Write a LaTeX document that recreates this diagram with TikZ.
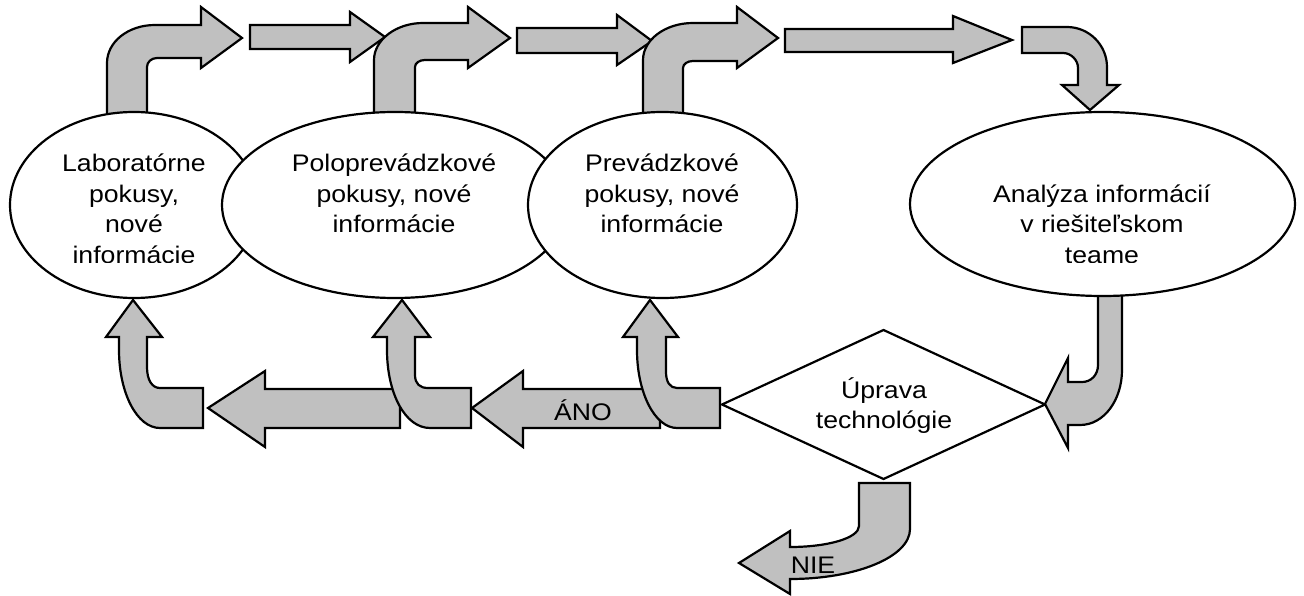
\documentclass[tikz,border=0pt]{standalone}
\usepackage{fontspec}
\setmainfont{Liberation Sans}[FakeStretch=1.11]
\usetikzlibrary{shapes.geometric}
\definecolor{arrowgray}{RGB}{192,192,192}
\begin{document}
\begin{tikzpicture}[x=1pt,y=-1pt,
  blockarrow/.style={draw=black, fill=arrowgray, line width=2.2pt, line join=miter, miter limit=10},
  bubble/.style={ellipse, draw=black, fill=white, line width=2.2pt, inner sep=0pt, outer sep=0pt},
  lbl/.style={anchor=base, inner sep=0pt, font=\fontsize{24}{30}\selectfont}]
\useasboundingbox (0,0) rectangle (1304,596);

% --- upper row of block arrows ---
% bent arrow leaving the first ellipse
\draw[blockarrow] (107,125) -- (107,63) .. controls (107,42) and (128,25) .. (155,25)
  -- (201,25) -- (201,7) -- (242,38) -- (201,68) -- (201,58) -- (157,58)
  .. controls (151.5,58) and (147,62) .. (147,67) -- (147,125) -- cycle;
% straight arrow
\draw[blockarrow] (250,25) -- (350,25) -- (350,12) -- (385,37) -- (350,62) -- (350,49) -- (250,49) -- cycle;
% bent arrow leaving the second ellipse
\draw[blockarrow] (374,125) -- (374,60) .. controls (374,40) and (396,23) .. (423,23)
  -- (468,23) -- (468,7) -- (510,38) -- (468,68) -- (468,60) -- (425,60)
  .. controls (419.5,60) and (415,63) .. (415,67) -- (415,125) -- cycle;
% straight arrow
\draw[blockarrow] (517,28) -- (617,28) -- (617,15) -- (652,41) -- (617,65) -- (617,53) -- (517,53) -- cycle;
% bent arrow leaving the third ellipse
\draw[blockarrow] (643,125) -- (643,60) .. controls (643,40) and (665,23) .. (693,23)
  -- (737,23) -- (737,7) -- (778,38) -- (737,68) -- (737,61) -- (693,61)
  .. controls (687.5,61) and (683,64) .. (683,68) -- (683,125) -- cycle;
% long straight arrow
\draw[blockarrow] (785,29) -- (953,29) -- (953,16) -- (1012,40) -- (953,63) -- (953,52) -- (785,52) -- cycle;
% bent arrow turning down to the analysis ellipse
\draw[blockarrow] (1022,27) -- (1067,27) .. controls (1089,27) and (1107,45) .. (1107,67)
  -- (1107,85) -- (1119,85) -- (1090,110) -- (1062,85) -- (1078,85) -- (1078,68)
  .. controls (1078,60) and (1071,53) .. (1063,53) -- (1022,53) -- cycle;

% --- decision ---
\node[diamond, draw=black, fill=white, line width=2.2pt, inner sep=0pt, outer sep=0pt,
  minimum width=323pt, minimum height=149pt] (upr) at (883.5,404.5) {};

% curved arrow from the analysis ellipse into the decision
\draw[blockarrow] (1098,285) -- (1098,365) .. controls (1098,375) and (1091,382) .. (1082,382)
  -- (1068,382) -- (1068,358) -- (1045,404) -- (1068,448) -- (1068,425) -- (1080,425)
  .. controls (1104,425) and (1122,400) .. (1122,370) -- (1122,285) -- cycle;

% --- ellipses ---
\node[bubble, minimum width=248pt, minimum height=186pt] (lab) at (134,205) {};
\node[bubble, minimum width=346pt, minimum height=186pt] (polo) at (395,205) {};
\node[bubble, minimum width=269pt, minimum height=186pt] (prev) at (662.5,205) {};
\node[bubble, minimum width=385pt, minimum height=184pt] (anal) at (1102.5,204) {};

% --- lower row of block arrows ---
\draw[blockarrow] (208,408) -- (265,371) -- (265,389) -- (400,389) -- (400,428) -- (265,428) -- (265,447) -- cycle;
\draw[blockarrow] (203,388) -- (160,388) .. controls (152,388) and (147,380) .. (147,367)
  -- (147,337) -- (162,337) -- (133,300) -- (106,337) -- (119,337) -- (119,350)
  .. controls (119,393) and (137,428) .. (160,428) -- (203,428) -- cycle;
\draw[blockarrow] (471,388) -- (428,388) .. controls (420,388) and (415,384) .. (415,375)
  -- (415,337) -- (430,337) -- (402,300) -- (373,337) -- (387,337) -- (387,350)
  .. controls (387,393) and (405,428) .. (430,428) -- (471,428) -- cycle;
\draw[blockarrow] (472,408) -- (523,371) -- (523,389) -- (660,389) -- (660,428) -- (523,428) -- (523,447) -- cycle;
\draw[blockarrow] (720,388) -- (677,388) .. controls (670,388) and (666,382) .. (666,372)
  -- (666,337) -- (678,337) -- (650,300) -- (623,337) -- (637,337) -- (637,350)
  .. controls (637,393) and (655,428) .. (677,428) -- (720,428) -- cycle;

% NIE exit arrow
\draw[blockarrow] (859,483) -- (910,483) -- (910,529) .. controls (910,557) and (856,579) .. (790,579)
  -- (790,594) -- (739,563) -- (790,531) -- (790,547) .. controls (828,547) and (859,538) .. (859,526) -- cycle;

% --- texts ---
\begin{scope}
\clip (0,0) rectangle (1304,262);
\node[lbl] (lab1) at (134,172) {Laboratórne};
\node[lbl] (lab2) at (134,202.5) {pokusy,};
\node[lbl] (lab3) at (134,233) {nové};
\node[lbl] (lab4) at (134,263.5) {informácie};
\node[lbl] (anal1) at (1102,202.5) {Analýza informácií};
\node[lbl] (anal2) at (1102,233) {v riešiteľskom};
\node[lbl] (anal3) at (1102,263.5) {teame};
\end{scope}
\node[lbl] (polo1) at (394,172) {Poloprevádzkové};
\node[lbl] (polo2) at (394,202.5) {pokusy, nové};
\node[lbl] (polo3) at (394,233) {informácie};
\node[lbl] (prev1) at (662,172) {Prevádzkové};
\node[lbl] (prev2) at (662,202.5) {pokusy, nové};
\node[lbl] (prev3) at (662,233) {informácie};
\node[lbl] (upr1) at (884,398) {Úprava};
\node[lbl] (upr2) at (884,428) {technológie};
\node[lbl] (ano) at (583,420) {ÁNO};
\node[lbl] (nie) at (813,573) {NIE};
\end{tikzpicture}
\end{document}
